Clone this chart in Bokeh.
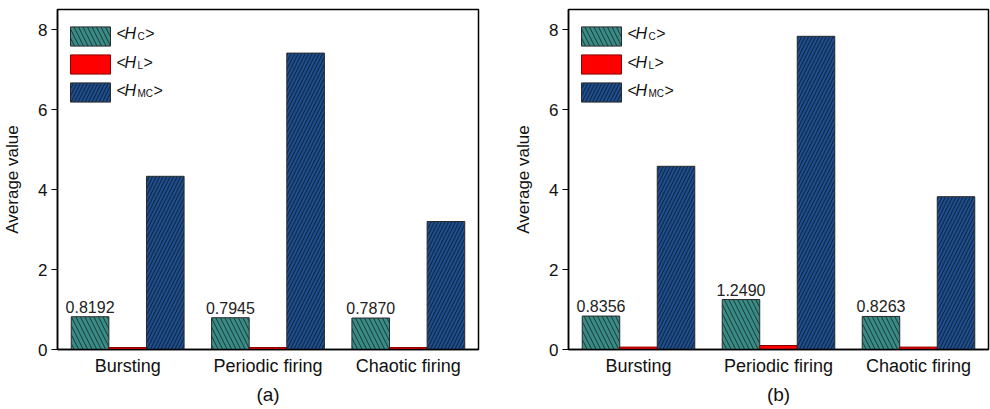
from bokeh.plotting import figure
from bokeh.layouts import row
from bokeh.models import FactorRange, Range1d, Legend, LegendItem, Label, ColumnDataSource
from bokeh.transform import dodge
from bokeh.core.properties import value
from bokeh.embed import file_html
from bokeh.resources import INLINE

categories = ["Bursting", "Periodic firing", "Chaotic firing"]
hc_a = [0.8192, 0.7945, 0.7870]
hl_a = [0.05, 0.05, 0.05]
hmc_a = [4.33, 7.41, 3.20]
hc_b = [0.8356, 1.2490, 0.8263]
hl_b = [0.06, 0.10, 0.06]
hmc_b = [4.58, 7.83, 3.82]
panel_labels = ["(a)", "(b)"]
y_ticks = [0, 2, 4, 6, 8]
legend_subs = ["C", "L", "MC"]

FONT = "Liberation Sans"
TEAL = "#3a8b86"
RED = "#ff0000"
BLUE = "#1f4e8d"
EDGE = "#2a2a2a"
BW = 0.268


def make_panel(hc, hl, hmc, label, border_left, border_right):
    src = ColumnDataSource(dict(cat=categories, hc=hc, hl=hl, hmc=hmc,
                                txt=[f"{v:.4f}" for v in hc]))
    p = figure(x_range=FactorRange(*categories), y_range=Range1d(0, 8.5),
               width=495, height=409, output_backend="svg", toolbar_location=None,
               min_border_left=border_left, min_border_right=border_right,
               min_border_top=9, min_border_bottom=60)
    p.xgrid.grid_line_color = None
    p.ygrid.grid_line_color = None
    p.outline_line_color = "black"
    p.outline_line_width = 1.5

    r1 = p.vbar(x=dodge("cat", -BW, range=p.x_range), top="hc", width=BW, source=src,
                fill_color=TEAL, line_color=EDGE, line_width=1,
                hatch_pattern="left_diagonal_line", hatch_color="black",
                hatch_alpha=0.75, hatch_scale=9, hatch_weight=0.8)
    r2 = p.vbar(x=dodge("cat", 0, range=p.x_range), top="hl", width=BW, source=src,
                fill_color=RED, line_color="#8b0000", line_width=1)
    r3 = p.vbar(x=dodge("cat", BW, range=p.x_range), top="hmc", width=BW, source=src,
                fill_color=BLUE, line_color=EDGE, line_width=1,
                hatch_pattern="right_diagonal_line", hatch_color="black",
                hatch_alpha=0.75, hatch_scale=7, hatch_weight=0.8)

    p.text(x=dodge("cat", -BW, range=p.x_range), y="hc", text="txt", source=src,
           text_align="center", text_baseline="bottom", y_offset=-4,
           text_font=value(FONT), text_font_size="16px", text_color="#222222")

    p.yaxis.ticker = y_ticks
    p.yaxis.axis_label = "Average value"
    p.yaxis.axis_label_text_font_style = "normal"
    p.yaxis.axis_label_text_font = FONT
    p.yaxis.axis_label_text_font_size = "17px"
    p.yaxis.axis_label_standoff = 13
    p.yaxis.major_label_text_font = FONT
    p.yaxis.major_label_text_font_size = "17px"
    p.yaxis.major_label_standoff = 4
    p.yaxis.major_tick_in = 0
    p.yaxis.major_tick_out = 6
    p.yaxis.minor_tick_line_color = None

    p.xaxis.axis_label = label
    p.xaxis.axis_label_text_font_style = "normal"
    p.xaxis.axis_label_text_font = FONT
    p.xaxis.axis_label_text_font_size = "19px"
    p.xaxis.axis_label_standoff = 5
    p.xaxis.major_label_text_font = FONT
    p.xaxis.major_label_text_font_size = "18px"
    p.xaxis.major_label_standoff = 0
    p.xaxis.major_tick_line_color = None
    p.xaxis.minor_tick_line_color = None

    for ax in (p.xaxis[0], p.yaxis[0]):
        ax.axis_line_width = 1.5
        ax.major_tick_line_width = 1.2
        ax.major_label_text_color = "#111111"
        ax.axis_label_text_color = "#111111"

    legend = Legend(items=[LegendItem(label=value(" "), renderers=[r]) for r in (r1, r2, r3)],
                    location=(8, 245), margin=0, padding=0,
                    glyph_width=50, glyph_height=24, label_height=24, spacing=4,
                    label_width=2, label_standoff=2,
                    border_line_alpha=0, background_fill_alpha=0)
    p.add_layout(legend, "center")

    row_y = [316.0, 287.5, 259.0]
    for sub, yb in zip(legend_subs, row_y):
        w_sub = {"C": 7.2, "L": 5.6, "MC": 15.6}[sub]
        common = dict(x_units="screen", y_units="screen", text_font=FONT,
                      text_baseline="alphabetic", text_color="#111111")
        p.add_layout(Label(x=59, y=yb, text="<", text_font_size="16px", **common))
        p.add_layout(Label(x=67, y=yb, text="H", text_font_size="16px",
                           text_font_style="italic", **common))
        p.add_layout(Label(x=80, y=yb - 3, text=sub, text_font_size="10px", **common))
        p.add_layout(Label(x=80.5 + w_sub, y=yb, text=">", text_font_size="16px", **common))
    return p


pa = make_panel(hc_a, hl_a, hmc_a, panel_labels[0], 57, 17)
pb = make_panel(hc_b, hl_b, hmc_b, panel_labels[1], 73, 2)
layout = row(pa, pb)
open("out.html", "w").write(file_html(layout, INLINE))
